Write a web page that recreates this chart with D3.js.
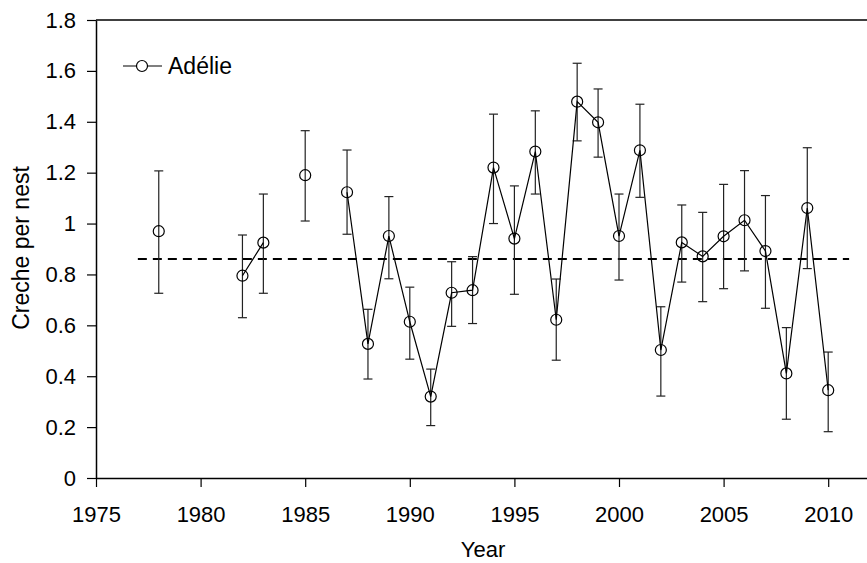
<!DOCTYPE html>
<html>
<head>
<meta charset="utf-8">
<script src="https://cdn.jsdelivr.net/npm/d3@7"></script>
<style>
  body { margin: 0; background: #fff; }
  svg text { font-family: Arial, "Liberation Sans", sans-serif; fill: #000; }
</style>
</head>
<body>
<svg id="chart"></svg>
<script>
// Adélie creche per nest, by year (null = no survey)
var years = [1978, 1979, 1980, 1981, 1982, 1983, 1984, 1985, 1986, 1987, 1988, 1989, 1990,
  1991, 1992, 1993, 1994, 1995, 1996, 1997, 1998, 1999, 2000, 2001, 2002, 2003, 2004,
  2005, 2006, 2007, 2008, 2009, 2010];
var means = [0.97, null, null, null, 0.795, 0.925, null, 1.19, null, 1.123, 0.527, 0.951, 0.614,
  0.32, 0.728, 0.738, 1.22, 0.941, 1.283, 0.622, 1.479, 1.398, 0.951, 1.288, 0.503, 0.926, 0.871,
  0.95, 1.013, 0.892, 0.411, 1.061, 0.345];
var upper = [1.207, null, null, null, 0.955, 1.116, null, 1.365, null, 1.289, 0.663, 1.106, 0.75,
  0.428, 0.85, 0.87, 1.43, 1.148, 1.443, 0.782, 1.63, 1.529, 1.116, 1.469, 0.673, 1.073, 1.044,
  1.154, 1.208, 1.11, 0.591, 1.298, 0.495];
var lower = [0.726, null, null, null, 0.63, 0.726, null, 1.01, null, 0.958, 0.389, 0.783, 0.467,
  0.206, 0.596, 0.607, 1.0, 0.722, 1.116, 0.463, 1.325, 1.261, 0.778, 1.103, 0.322, 0.77, 0.693,
  0.744, 0.814, 0.667, 0.231, 0.823, 0.182];
var meanLine = { value: 0.861, from: 1977, to: 2011 };
var xTicks = [1975, 1980, 1985, 1990, 1995, 2000, 2005, 2010];
var yTicks = [0, 0.2, 0.4, 0.6, 0.8, 1, 1.2, 1.4, 1.6, 1.8];
var seriesName = "Adélie";

var width = 867, height = 563;
var svg = d3.select("#chart").attr("width", width).attr("height", height);

var x = d3.scaleLinear().domain([1975, 2012]).range([96, 96 + 37 * 20.92]);
var y = d3.scaleLinear().domain([0, 1.8]).range([478, 20]);

var data = years.map(function(yr, i) {
  return { year: yr, mean: means[i], hi: upper[i], lo: lower[i] };
});
var present = data.filter(function(d) { return d.mean != null; });

// axes
var xAxis = svg.append("g")
  .attr("transform", "translate(0," + y(0) + ")")
  .call(d3.axisBottom(x).tickValues(xTicks).tickFormat(d3.format("d")).tickSize(9).tickSizeOuter(0));
var yAxis = svg.append("g")
  .attr("transform", "translate(" + x(1975) + ",0)")
  .call(d3.axisLeft(y).tickValues(yTicks).tickFormat(function(d) { return d3.format("")(d); }).tickSize(9).tickSizeOuter(0));

[xAxis, yAxis].forEach(function(a) {
  a.select(".domain").attr("stroke", "#000").attr("stroke-width", 1.5);
  a.selectAll(".tick line").attr("stroke", "#000").attr("stroke-width", 1.2);
  a.selectAll(".tick text").attr("font-size", 22);
});
xAxis.selectAll(".tick text").attr("y", 43.7).attr("dy", 0);
yAxis.selectAll(".tick text").attr("x", -20);

// top border
svg.append("line")
  .attr("x1", x(1975)).attr("x2", width)
  .attr("y1", y(1.8)).attr("y2", y(1.8))
  .attr("stroke", "#000").attr("stroke-width", 1.5);

// axis titles
svg.append("text")
  .attr("x", 483).attr("y", 557)
  .attr("text-anchor", "middle").attr("font-size", 22)
  .text("Year");
svg.append("text")
  .attr("transform", "translate(29,248) rotate(-90)")
  .attr("text-anchor", "middle").attr("font-size", 23)
  .text("Creche per nest");

// long-term mean
svg.append("line")
  .attr("x1", x(meanLine.from)).attr("x2", x(meanLine.to))
  .attr("y1", y(meanLine.value)).attr("y2", y(meanLine.value))
  .attr("stroke", "#000").attr("stroke-width", 2)
  .attr("stroke-dasharray", "9,6");

// error bars
var bars = svg.append("g").attr("stroke", "#222").attr("stroke-width", 1.2);
present.forEach(function(d) {
  var cx = x(d.year);
  bars.append("line").attr("x1", cx).attr("x2", cx).attr("y1", y(d.hi)).attr("y2", y(d.lo));
  bars.append("line").attr("x1", cx - 4.5).attr("x2", cx + 4.5).attr("y1", y(d.hi)).attr("y2", y(d.hi));
  bars.append("line").attr("x1", cx - 4.5).attr("x2", cx + 4.5).attr("y1", y(d.lo)).attr("y2", y(d.lo));
});

// series line, broken at missing years
var line = d3.line()
  .defined(function(d) { return d.mean != null; })
  .x(function(d) { return x(d.year); })
  .y(function(d) { return y(d.mean); });
svg.append("path")
  .datum(data)
  .attr("d", line)
  .attr("fill", "none")
  .attr("stroke", "#000")
  .attr("stroke-width", 1.2);

svg.append("g").selectAll("circle")
  .data(present)
  .enter().append("circle")
  .attr("cx", function(d) { return x(d.year); })
  .attr("cy", function(d) { return y(d.mean); })
  .attr("r", 5.5)
  .attr("fill", "none")
  .attr("stroke", "#000")
  .attr("stroke-width", 1.2);

// legend
var lg = svg.append("g").attr("transform", "translate(123,66)");
lg.append("line").attr("x1", 0).attr("x2", 39).attr("y1", 0).attr("y2", 0)
  .attr("stroke", "#000").attr("stroke-width", 1.2);
lg.append("circle").attr("cx", 19).attr("cy", 0).attr("r", 5.5)
  .attr("fill", "#fff").attr("stroke", "#000").attr("stroke-width", 1.2);
lg.append("text").attr("x", 45).attr("y", 7.5).attr("font-size", 23).text(seriesName);
</script>
</body>
</html>
